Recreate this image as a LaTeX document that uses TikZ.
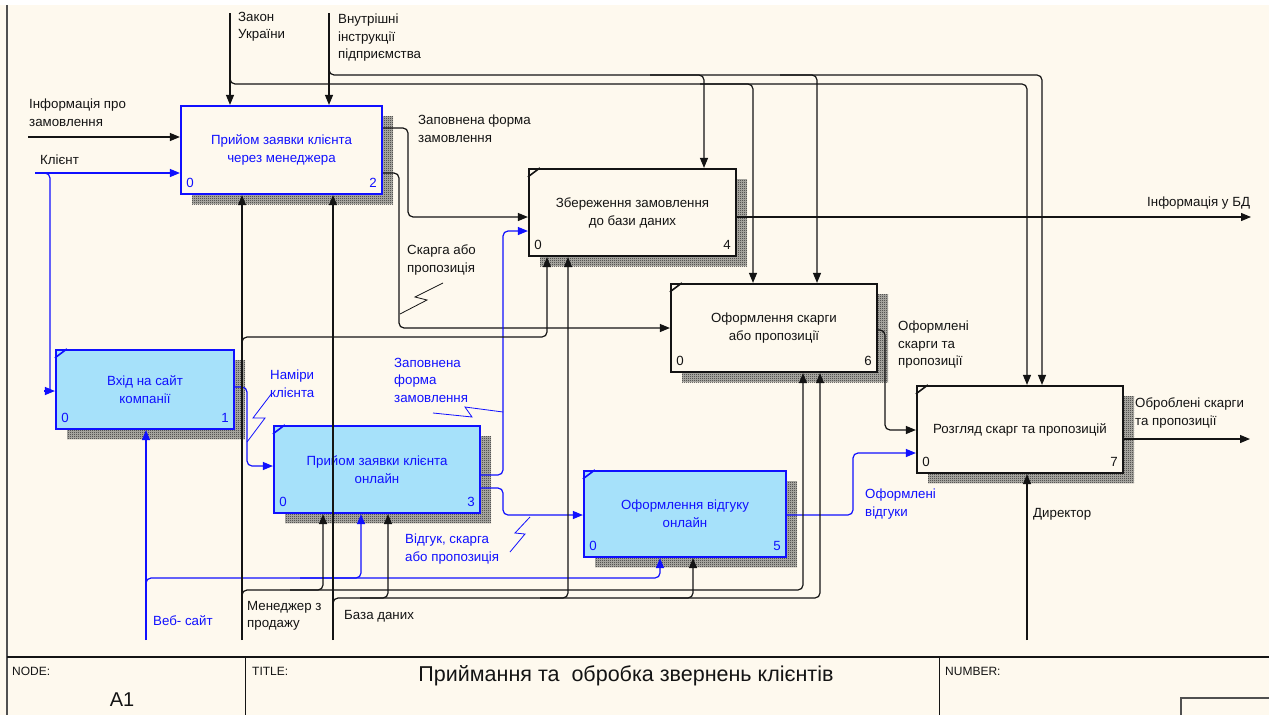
\documentclass[tikz,border=0pt]{standalone}
\usepackage{fontspec}
\setmainfont{Liberation Sans}
\usetikzlibrary{arrows.meta,patterns}
\definecolor{bgc}{HTML}{FEF9EE}
\definecolor{fillb}{HTML}{A6E1FA}
\definecolor{ib}{HTML}{1010FF}
\definecolor{ink}{HTML}{141414}
\definecolor{shad}{HTML}{202020}
\definecolor{shadbase}{HTML}{B8B6B0}
\definecolor{framec}{HTML}{505050}
\pgfdeclarepatternformonly{dither}{\pgfpointorigin}{\pgfpoint{2pt}{2pt}}{\pgfpoint{2pt}{2pt}}{%
  \pgfpathrectangle{\pgfpointorigin}{\pgfpoint{1pt}{1pt}}%
  \pgfpathrectangle{\pgfpoint{1pt}{1pt}}{\pgfpoint{1pt}{1pt}}%
  \pgfusepath{fill}}
\newcommand\lblfont{\fontsize{13.3}{17.5}\selectfont}
\newcommand\boxfont{\fontsize{13.3}{18}\selectfont}
% name x1 y1 x2 y2 style text number numbercolor
\newcommand\ibox[9]{%
  \fill[shadbase] (#2+11,#3+10) rectangle (#4+11,#5+10);
  \fill[pattern=dither,pattern color=shad] (#2+11,#3+10) rectangle (#4+11,#5+10);
  \node[#6,minimum width=#4-#2,minimum height=#5-#3] (#1) at ({(#2+#4)/2},{(#3+#5)/2}) {#7};
  \node[numlbl,text=#9] (#1z) at (#2+9,#5-11) {0};
  \node[numlbl,text=#9] (#1n) at (#4-9,#5-11) {#8};
}
\begin{document}
\begin{tikzpicture}[x=1pt,y=-1pt,
  ibb/.style={draw=ib,line width=2.2pt,fill=fillb,text=ib,font=\boxfont,align=center,inner sep=0pt},
  ibm/.style={draw=ib,line width=2.2pt,fill=bgc,text=ib,font=\boxfont,align=center,inner sep=0pt},
  ibw/.style={draw=ink,line width=2.2pt,fill=bgc,text=ink,font=\boxfont,align=center,inner sep=0pt},
  numlbl/.style={font=\boxfont,inner sep=0pt,anchor=center},
  tickw/.style={draw=ink,line width=1.6pt},
  tickb/.style={draw=ib,line width=1.6pt},
  ln/.style={draw=ink,line width=1.2pt,rounded corners=5pt},
  arr/.style={ln,-{Triangle[length=10pt,width=8pt]}},
  bln/.style={ln,draw=ib},
  barr/.style={arr,draw=ib},
  sq/.style={draw=ink,line width=0.8pt},
  bsq/.style={draw=ib,line width=0.8pt},
  lbl/.style={font=\lblfont,align=left,inner sep=0pt,anchor=north west,text=ink,execute at begin node=\strut},
  blbl/.style={lbl,text=ib}
]
\useasboundingbox (0,0) rectangle (1269,715);
\fill[white] (0,0) rectangle (1269,715);
\fill[bgc] (0,5) rectangle (1269,715);

% frame and title block
\draw[framec,line width=2pt] (7,5) -- (7,715);
\draw[ink,line width=1.5pt] (7,657) -- (1269,657);
\draw[ink,line width=1pt] (245,657) -- (245,715);
\draw[ink,line width=1pt] (939,657) -- (939,715);
\draw[framec,line width=1.5pt] (1181,715) -- (1181,698) -- (1269,698);
\node[font=\fontsize{12}{14}\selectfont,anchor=west,inner sep=0pt,text=ink] (tnode) at (12,671) {NODE:};
\node[font=\fontsize{12}{14}\selectfont,anchor=west,inner sep=0pt,text=ink] (ttitle) at (252,671) {TITLE:};
\node[font=\fontsize{12}{14}\selectfont,anchor=west,inner sep=0pt,text=ink] (tnum) at (945,671) {NUMBER:};
\node[font=\fontsize{21.5}{24}\selectfont,inner sep=0pt,text=ink] (ttext) at (626,676) {Приймання та\ \ обробка звернень клієнтів};
\node[font=\fontsize{20}{24}\selectfont,inner sep=0pt,text=ink] (tA1) at (122,700) {A1};

% boxes
\ibox{b2}{181}{106}{382}{194}{ibm}{Прийом заявки клієнта\\через менеджера}{2}{ib}
\ibox{b4}{529}{169}{736}{256}{ibw}{Збереження замовлення\\до бази даних}{4}{ink}
\ibox{b6}{671}{284}{877}{372}{ibw}{Оформлення скарги\\або пропозиції}{6}{ink}
\ibox{b7}{917}{386}{1123}{473}{ibw}{Розгляд скарг та пропозицій}{7}{ink}
\ibox{b1}{56}{350}{234}{429}{ibb}{Вхід на сайт\\компанії}{1}{ib}
\ibox{b3}{274}{426}{480}{513}{ibb}{Прийом заявки клієнта\\онлайн}{3}{ib}
\ibox{b5}{584}{471}{786}{557}{ibb}{Оформлення відгуку\\онлайн}{5}{ib}

\draw[tickb] (b1.north west) ++(0,9) -- ++(12,-9);
\draw[tickb] (b3.north west) ++(0,9) -- ++(12,-9);
\draw[tickb] (b5.north west) ++(0,9) -- ++(12,-9);
\draw[tickw] (b4.north west) ++(0,9) -- ++(12,-9);
\draw[tickw] (b6.north west) ++(0,9) -- ++(12,-9);
\draw[tickw] (b7.north west) ++(0,9) -- ++(12,-9);

% free ends
\coordinate (zk) at (230,13);
\coordinate (vi) at (329,13);
\coordinate (inf) at (28,137);
\coordinate (kl) at (35,173);
\coordinate (web) at (146,640);
\coordinate (men) at (242,640);
\coordinate (bd) at (333,640);
\coordinate (dir) at (1027,640);
\coordinate (oBD) at (1251,217);
\coordinate (oOb) at (1250,439);

% controls
\draw[arr] (zk) -- (b2.north -| zk);
\draw[arr] (230,74) -- (230,84) -- (1027,84) -- (b7.north -| 1027,0);
\draw[arr] (700,84) -- (753,84) -- (b6.north -| 753,0);
\draw[arr] (vi) -- (b2.north -| vi);
\draw[arr] (329,65) -- (329,75) -- (1042,75) -- (b7.north -| 1042,0);
\draw[arr] (650,75) -- (704,75) -- (b4.north -| 704,0);
\draw[arr] (780,75) -- (817,75) -- (b6.north -| 817,0);

% inputs
\draw[arr] (inf) -- (b2.west |- inf);
\draw[barr] (kl) -- (b2.west |- kl);
\draw[bln] (kl) -- (50,173) -- (50,391);
\draw[barr] (44,391) -- (b1.west |- 0,391);

% outputs
\draw[arr] (b2.east |- 0,128) -- (408,128) -- (408,217) -- (b4.west |- 0,217);
\draw[arr] (b2.east |- 0,173) -- (399,173) -- (399,328) -- (b6.west |- 0,328);
\draw[arr] (b4.east |- oBD) -- (oBD);
\draw[barr] (b1.east |- 0,387) -- (247,387) -- (247,466) -- (b3.west |- 0,466);
\draw[barr] (b3.east |- 0,475) -- (503,475) -- (503,231) -- (b4.west |- 0,231);
\draw[barr] (b3.east |- 0,488) -- (503,488) -- (503,515) -- (b5.west |- 0,515);
\draw[barr] (b5.east |- 0,515) -- (853,515) -- (853,453) -- (b7.west |- 0,453);
\draw[arr] (b6.east |- 0,330) -- (885,330) -- (885,430) -- (b7.west |- 0,430);
\draw[arr] (b7.east |- oOb) -- (oOb);

% mechanisms
\draw[barr] (web) -- (b1.south -| web);
\draw[barr] (146,590) -- (146,578) -- (660,578) -- (b5.south -| 660,0);
\draw[barr] (300,578) -- (361,578) -- (b3.south -| 361,0);
\draw[arr] (men) -- (b2.south -| men);
\draw[arr] (242,350) -- (242,337) -- (547,337) -- (b4.south -| 547,0);
\draw[arr] (242,602) -- (242,590) -- (803,590) -- (b6.south -| 803,0);
\draw[arr] (290,590) -- (323,590) -- (b3.south -| 323,0);
\draw[arr] (bd) -- (b2.south -| bd);
\draw[arr] (333,610) -- (333,598) -- (820,598) -- (b6.south -| 820,0);
\draw[arr] (360,598) -- (388,598) -- (b3.south -| 388,0);
\draw[arr] (540,598) -- (568,598) -- (b4.south -| 568,0);
\draw[arr] (660,598) -- (693,598) -- (b5.south -| 693,0);
\draw[arr] (dir) -- (b7.south -| dir);

% squiggles
\draw[sq] (443,283) -- (415,297) -- (427,300) -- (400,314);
\draw[bsq] (272,393) -- (253,418) -- (265,418) -- (247,442);
\draw[bsq] (503,412) -- (465,407) -- (472,417) -- (433,413);
\draw[bsq] (530,517) -- (515,533) -- (525,534) -- (510,552);

% labels
\node[lbl] (lZk) at (238,12) {Закон\\України};
\node[lbl] (lVi) at (338,14) {Внутрішні\\інструкції\\підприємства};
\node[lbl] (lInf) at (29,99) {Інформація про\\замовлення};
\node[lbl] (lKl) at (40,152) {Клієнт};
\node[lbl] (lZf) at (418,115) {Заповнена форма\\замовлення};
\node[lbl] (lSk) at (407,245) {Скарга або\\пропозиція};
\node[lbl] (lBD) at (1147,194) {Інформація у БД};
\node[blbl] (lNam) at (270,370) {Наміри\\клієнта};
\node[blbl] (lZf2) at (394,358) {Заповнена\\форма\\замовлення};
\node[blbl] (lVid) at (405,534) {Відгук, скарга\\або пропозиція};
\node[blbl] (lOv) at (865,489) {Оформлені\\відгуки};
\node[lbl] (lOs) at (898,321) {Оформлені\\скарги та\\пропозиції};
\node[lbl] (lOb) at (1135,398) {Оброблені скарги\\та пропозиції};
\node[lbl] (lDir) at (1033,505) {Директор};
\node[lbl] (lMen) at (247,601) {Менеджер з\\продажу};
\node[lbl] (lBd) at (344,607) {База даних};
\node[blbl] (lWeb) at (153,613) {Веб- сайт};
\end{tikzpicture}
\end{document}
